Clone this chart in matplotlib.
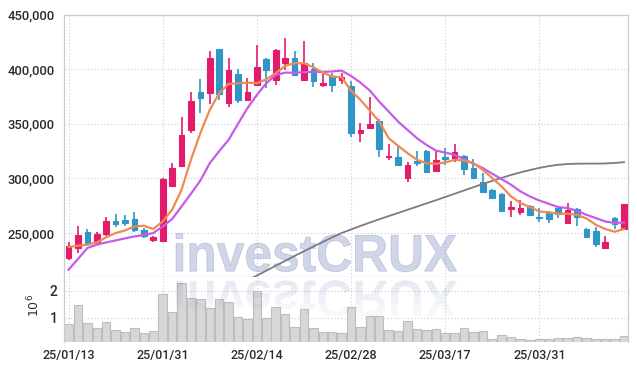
import numpy as np
import matplotlib
matplotlib.use('Agg')
import matplotlib.pyplot as plt
from matplotlib.textpath import TextPath
from matplotlib.patches import PathPatch, Rectangle
from matplotlib.font_manager import FontProperties
from matplotlib.transforms import Affine2D

plt.rcParams['font.family'] = ['Roboto', 'Liberation Sans', 'DejaVu Sans']
plt.rcParams['font.weight'] = 'medium'

dates = ['25/01/13', '25/01/14', '25/01/15', '25/01/16', '25/01/17', '25/01/20', '25/01/21', '25/01/22',
         '25/01/23', '25/01/24', '25/01/31', '25/02/03', '25/02/04', '25/02/05', '25/02/06', '25/02/07',
         '25/02/10', '25/02/11', '25/02/12', '25/02/13', '25/02/14', '25/02/17', '25/02/18', '25/02/19',
         '25/02/20', '25/02/21', '25/02/24', '25/02/25', '25/02/26', '25/02/27', '25/02/28', '25/03/04',
         '25/03/05', '25/03/06', '25/03/07', '25/03/10', '25/03/11', '25/03/12', '25/03/13', '25/03/14',
         '25/03/17', '25/03/18', '25/03/19', '25/03/20', '25/03/21', '25/03/24', '25/03/25', '25/03/26',
         '25/03/27', '25/03/28', '25/03/31', '25/04/01', '25/04/02', '25/04/03', '25/04/04', '25/04/07',
         '25/04/08', '25/04/09', '25/04/10', '25/04/11']

opens = [227000, 236000, 251000, 242000, 249000, 261000, 261500, 263000, 253000, 244000,
         242500, 293500, 311500, 344000, 379500, 378500, 418500, 369000, 396000, 371500,
         386000, 409000, 390500, 406000, 410500, 390500, 400500, 386000, 394000, 390500,
         385000, 342000, 346500, 353000, 320000, 320000, 300500, 316000, 325500, 306500,
         320000, 318500, 320500, 310000, 297000, 289000, 286000, 272000, 269000, 274500,
         264500, 269000, 272500, 259500, 272000, 253500, 252000, 236000, 263500, 254000]
highs = [241500, 256000, 254000, 250500, 264500, 267500, 266500, 269000, 255000, 247500,
         300000, 314500, 356000, 379500, 391000, 416500, 419000, 410000, 400000, 392000,
         422000, 410500, 419000, 428500, 416500, 426000, 406000, 396500, 396500, 396500,
         389000, 351000, 374500, 354500, 331500, 330000, 315500, 325500, 326000, 325500,
         328000, 331500, 321500, 318000, 305000, 290500, 286500, 279500, 280500, 275500,
         272500, 270000, 274000, 277500, 272500, 254500, 255500, 247000, 264500, 277000]
lows = [225500, 231500, 239000, 240000, 247000, 255500, 256500, 251000, 245500, 241500,
        241500, 292500, 310500, 342000, 360000, 368500, 372000, 365500, 369500, 370500,
        385000, 382500, 385500, 399500, 394500, 389500, 383500, 384000, 379500, 386500,
        338000, 333500, 346000, 319500, 317000, 311000, 296500, 311500, 305000, 306000,
        312000, 315500, 303500, 300000, 286500, 281500, 269000, 264500, 266500, 266000,
        260500, 259000, 263500, 259000, 256500, 245000, 237500, 235500, 253500, 253500]
closes = [238500, 248500, 240000, 249500, 261000, 258000, 259500, 252500, 247000, 246500,
          299500, 309500, 340000, 371000, 374000, 410500, 377000, 399500, 371500, 379500,
          402000, 399000, 417500, 410500, 395000, 405500, 389500, 387000, 386000, 392500,
          342000, 344500, 350000, 327000, 321000, 312000, 312500, 314500, 306000, 317000,
          317500, 324000, 308500, 300500, 288000, 282500, 270000, 274000, 273000, 266500,
          263500, 263000, 267500, 271500, 265000, 246000, 239500, 242000, 258000, 276500]

ma_short = [237200, 238400, 239300, 241400, 246000, 250000, 252400, 256000, 256700, 253700,
            260600, 271300, 289600, 317100, 341500, 362800, 378100, 386600, 387200, 387800,
            387200, 390900, 396400, 403100, 405500, 405500, 401900, 396900, 393300, 392700,
            380500, 372000, 362200, 352100, 336900, 329900, 323200, 317100, 314000, 313400,
            314600, 317100, 316400, 314000, 307900, 300300, 292600, 283500, 277500, 273800,
            269800, 268900, 267700, 267700, 266700, 263400, 257600, 253700, 251200, 253700]
ma_mid = [216400, 226200, 236300, 239300, 241400, 243200, 245100, 246900, 248200, 250000,
          256000, 262800, 274300, 286000, 298100, 314000, 325000, 335400, 350000, 364400,
          376500, 387200, 394800, 396900, 396900, 397300, 397600, 397600, 398000, 398800,
          393900, 387800, 380500, 370400, 361300, 352100, 344500, 336900, 330800, 325600,
          323700, 321600, 317700, 313400, 309500, 304300, 299400, 294200, 288100, 283500,
          279800, 276800, 273800, 272900, 270400, 266700, 263700, 260600, 259200, 259700]
nan = float('nan')
ma_long = [nan] * 19 + [206700,
           211000, 215500, 220000, 224500, 229000, 233300, 237600, 241800, 246000, 250000,
           253300, 256500, 259600, 262600, 265500, 268400, 271300, 274200, 277100, 280000,
           283000, 286000, 289000, 292000, 295000, 297800, 300500, 303200, 305600, 307700,
           309700, 311300, 312500, 313200, 313500, 313600, 313600, 313700, 314200, 314900]

volume = [0.77e6, 1.46e6, 0.79e6, 0.61e6, 0.83e6, 0.53e6, 0.47e6, 0.61e6, 0.43e6, 0.51e6,
          1.88e6, 1.21e6, 2.29e6, 1.72e6, 1.68e6, 1.35e6, 1.68e6, 1.57e6, 1.01e6, 0.94e6,
          2.00e6, 0.98e6, 1.38e6, 1.14e6, 0.64e6, 1.31e6, 0.61e6, 0.46e6, 0.46e6, 0.42e6,
          1.38e6, 0.64e6, 1.05e6, 1.05e6, 0.53e6, 0.50e6, 0.87e6, 0.57e6, 0.53e6, 0.57e6,
          0.42e6, 0.42e6, 0.61e6, 0.46e6, 0.50e6, 0.20e6, 0.35e6, 0.27e6, 0.20e6, 0.16e6,
          0.20e6, 0.20e6, 0.24e6, 0.24e6, 0.27e6, 0.24e6, 0.20e6, 0.20e6, 0.20e6, 0.31e6]

price_ticks = [250000, 300000, 350000, 400000, 450000]
vol_ticks = [1e6, 2e6]

UP = '#e31b6d'
DOWN = '#3096c8'
GRID = '#c8cddc'
SPINE = '#c9ccd6'
TXT = '#2b2b2b'

W, H = 637, 371
fig = plt.figure(figsize=(W / 100, H / 100), dpi=100)
fig.patch.set_facecolor('white')
ax = fig.add_axes([64.3 / W, 1 - 276.7 / H, 564 / W, 262 / H])
axv = fig.add_axes([64.3 / W, 1 - 342.3 / H, 564 / W, 65.6 / H], sharex=ax)

x = np.arange(len(dates))
o = np.array(opens); c = np.array(closes); hi = np.array(highs); lo = np.array(lows)
cols = np.where(c >= o, UP, DOWN)

ax.vlines(x, lo, hi, colors=cols, lw=1.2, zorder=2)
ax.bar(x, np.abs(c - o), bottom=np.minimum(o, c), width=0.6, color=cols,
       edgecolor=cols, lw=0.8, zorder=3)
ax.plot(x, ma_long, color='#7d7d7d', lw=1.3, zorder=4)
ax.plot(x, ma_mid, color='#c75be9', lw=1.6, zorder=4)
ax.plot(x, ma_short, color='#ee8a52', lw=1.6, zorder=5)

ax.set_ylim(210000, 450000)
ax.set_xlim(-0.45, len(dates) - 0.55)
ax.set_yticks(price_ticks)
ax.set_yticklabels([f'{v:,}' for v in price_ticks])
ax.grid(True, color=GRID, ls=(0, (1, 2)), lw=0.8)
ax.set_axisbelow(True)
ax.tick_params(axis='y', length=0, pad=7, labelsize=9.4, labelcolor=TXT)
ax.tick_params(axis='x', length=0, labelbottom=False)
for s in ['top', 'left', 'right']:
    ax.spines[s].set_color(SPINE)
    ax.spines[s].set_linewidth(0.9)
ax.spines['bottom'].set_color('#c4c4c4')
ax.spines['bottom'].set_linewidth(0.9)

vol = np.array(volume)
axv.bar(x, vol / 1e6, width=0.9, color='#d7d7d7', edgecolor='#bdbdbd', lw=0.8, zorder=2)
axv.set_ylim(0.09, 2.52)
axv.set_yticks([v / 1e6 for v in vol_ticks])
axv.set_yticklabels([f'{v / 1e6:.0f}' for v in vol_ticks])
axv.set_xticks(x[::10])
axv.set_xticklabels([dates[i] for i in x[::10]])
axv.grid(True, color=GRID, ls=(0, (1, 2)), lw=0.8)
axv.set_axisbelow(True)
axv.tick_params(axis='y', length=0, pad=5, labelsize=10, labelcolor=TXT)
axv.tick_params(axis='x', length=0, pad=5, labelsize=9, labelcolor=TXT)
axv.spines['top'].set_visible(False)
axv.spines['bottom'].set_visible(False)
for s in ['left', 'right']:
    axv.spines[s].set_color(SPINE)
    axv.spines[s].set_linewidth(0.9)
fig.text(34 / W, 1 - 305 / H, r'$10^6$', rotation=90, ha='center', va='center',
         fontsize=9, color=TXT)

# watermark with reflection
fp = FontProperties(family='Liberation Sans', weight='bold')
tp = TextPath((0, 0), 'investCRUX', size=1, prop=fp)
bb = tp.get_extents()
x0, x1 = 176.0, 456.7
base, cap = 271.7, 38.4
sx = (x1 - x0) / bb.width
sy = cap / bb.height
WM = (0.40, 0.47, 0.71)
tr = Affine2D().translate(-bb.x0, -bb.y0).scale(sx / W, sy / H).translate(x0 / W, (H - base) / H) + fig.transFigure
fig.add_artist(PathPatch(tp, transform=tr, facecolor=WM, edgecolor=WM, lw=0.6, alpha=0.30, zorder=10))
rbase = 280.3
trr = Affine2D().translate(-bb.x0, -bb.y0).scale(sx / W, -sy / H).translate(x0 / W, (H - rbase) / H) + fig.transFigure
nb = 8
for k in range(nb):
    yt = H - rbase - k * cap / nb
    rect = Rectangle((0, (yt - cap / nb) / H), 1, (cap / nb) / H, transform=fig.transFigure)
    pp = PathPatch(tp, transform=trr, facecolor=WM, edgecolor='none',
                   alpha=0.14 * (1 - k / nb) + 0.015, zorder=10)
    fig.add_artist(pp)
    pp.set_clip_path(rect)

fig.savefig('out.png', dpi=100)
